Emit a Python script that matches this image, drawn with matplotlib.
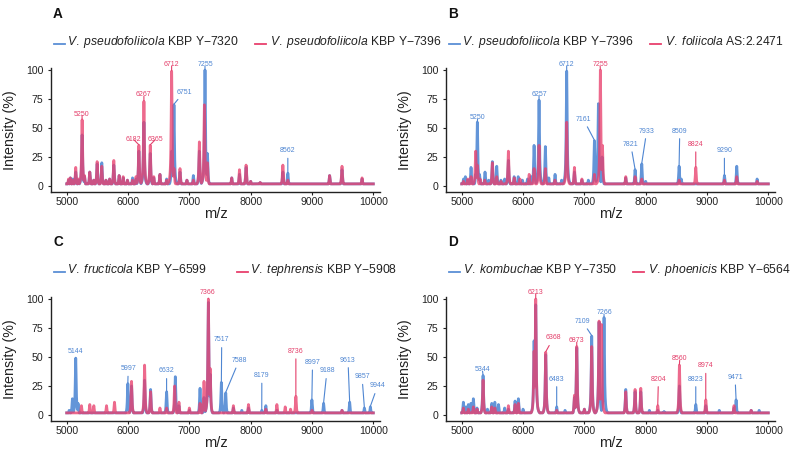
import numpy as np
import matplotlib
matplotlib.use("Agg")
import matplotlib.pyplot as plt
from matplotlib.lines import Line2D

plt.rcParams['font.family'] = ['Liberation Sans', 'DejaVu Sans']
plt.rcParams['mathtext.fontset'] = 'custom'
plt.rcParams['mathtext.it'] = 'Liberation Sans:italic'
plt.rcParams['mathtext.rm'] = 'Liberation Sans'

BLUE = '#5b8fd6'
RED = '#e8406d'
BLUE_TXT = '#4f86d2'
RED_TXT = '#e4406b'

# ---------------- data: (m/z, intensity %) peak lists -------------
A_blue = [(5030, 5), (5060, 7), (5100, 6), (5147, 12), (5190, 5), (5251, 44), (5290, 8), (5376, 12),
          (5440, 5), (5496, 19), (5572, 20), (5640, 5), (5700, 6), (5768, 18), (5855, 9), (5921, 7),
          (5990, 5), (6073, 7), (6130, 6), (6177, 30), (6259, 55), (6362, 28), (6420, 7), (6520, 10),
          (6629, 6), (6711, 30), (6749, 70), (6847, 12), (6960, 5), (7065, 9), (7163, 30), (7255, 100),
          (7295, 28), (7691, 7), (7817, 10), (7925, 16), (8000, 4), (8155, 3), (8525, 12), (8606, 11),
          (9287, 9), (9489, 14), (9816, 6)]
A_red = [(5030, 6), (5060, 7), (5100, 5), (5147, 16), (5190, 6), (5251, 57), (5290, 9), (5376, 12),
         (5440, 5), (5496, 21), (5572, 17), (5640, 5), (5700, 6), (5768, 22), (5855, 9), (5921, 8),
         (5990, 5), (6073, 5), (6130, 8), (6177, 35), (6259, 73), (6362, 35), (6420, 8), (6520, 10),
         (6629, 5), (6711, 99), (6749, 15), (6847, 15), (6960, 5), (7065, 5), (7163, 38), (7245, 70),
         (7295, 20), (7691, 7), (7817, 14), (7925, 18), (8000, 4), (8155, 3), (8525, 18), (8606, 5),
         (9287, 9), (9489, 17), (9816, 7)]

B_blue = [(5030, 6), (5060, 8), (5100, 5), (5152, 16), (5228, 10), (5255, 55), (5290, 10), (5380, 12),
          (5440, 5), (5500, 21), (5571, 17), (5640, 5), (5700, 6), (5761, 22), (5855, 8), (5921, 8),
          (5990, 5), (6073, 6), (6130, 8), (6180, 35), (6261, 74), (6364, 34), (6420, 7), (6522, 10),
          (6629, 5), (6712, 99), (6838, 12), (6960, 5), (7065, 5), (7164, 39), (7229, 71), (7290, 25),
          (7675, 7), (7827, 14), (7936, 19), (8000, 4), (8545, 17), (8580, 6), (9284, 9), (9485, 17),
          (9817, 6)]
B_red = [(5030, 4), (5100, 6), (5152, 8), (5228, 30), (5255, 18), (5300, 6), (5376, 5), (5500, 20),
         (5571, 8), (5640, 4), (5761, 30), (5855, 7), (5950, 6), (6100, 10), (6180, 15), (6261, 35),
         (6364, 15), (6520, 5), (6712, 55), (6838, 16), (6960, 6), (7164, 10), (7261, 100), (7295, 35),
         (7675, 8), (7827, 8), (7936, 6), (8545, 5), (8817, 16), (9284, 5), (9485, 8), (9817, 4)]

C_blue = [(5040, 4), (5093, 14), (5147, 49), (5185, 10), (5997, 27), (6057, 25), (6270, 30), (6368, 22),
          (6629, 20), (6771, 33), (6830, 8), (7000, 4), (7174, 23), (7239, 15), (7310, 97), (7340, 35),
          (7522, 28), (7593, 19), (7718, 6), (7855, 4), (7964, 6), (8181, 4), (8247, 8), (8427, 4),
          (8998, 13), (9189, 10), (9489, 4), (9614, 11), (9854, 6), (9952, 7)]
C_red = [(5240, 8), (5376, 9), (5442, 8), (5649, 8), (5779, 11), (6057, 29), (6270, 43), (6368, 20),
         (6520, 6), (6629, 6), (6760, 25), (6830, 11), (7000, 6), (7174, 10), (7239, 29), (7310, 100),
         (7340, 40), (7718, 8), (7964, 9), (8247, 5), (8427, 9), (8563, 7), (8650, 5), (8737, 16),
         (9000, 4), (9489, 4)]

D_blue = [(5027, 11), (5070, 7), (5108, 9), (5150, 10), (5190, 14), (5250, 6), (5348, 34), (5420, 5),
          (5490, 10), (5540, 11), (5600, 9), (5700, 6), (5761, 5), (5870, 12), (5924, 14), (6000, 5),
          (6180, 64), (6207, 95), (6370, 52), (6549, 7), (6685, 4), (6838, 15), (6876, 58), (7000, 5),
          (7120, 68), (7240, 80), (7321, 84), (7675, 22), (7827, 20), (7920, 20), (8060, 4), (8197, 4),
          (8300, 3), (8550, 25), (8817, 9), (8980, 8), (9200, 4), (9440, 6), (9474, 13), (9720, 4),
          (9850, 4)]
D_red = [(5027, 6), (5108, 5), (5190, 7), (5250, 5), (5348, 30), (5490, 7), (5540, 6), (5761, 8),
         (5870, 9), (5924, 10), (6180, 55), (6207, 100), (6370, 54), (6549, 4), (6838, 17), (6876, 59),
         (7000, 5), (7120, 59), (7240, 81), (7280, 78), (7675, 20), (7827, 22), (7920, 23), (8197, 8),
         (8550, 43), (8980, 13), (9440, 8), (9720, 4)]

# peak labels: (text, series, peak m/z)
A_labels = [("5250", 'r', 5251), ("6182", 'r', 6177), ("6267", 'r', 6259), ("6365", 'r', 6362),
            ("6712", 'r', 6711), ("6751", 'b', 6749), ("7255", 'b', 7255), ("8562", 'b', 8606)]
B_labels = [("5250", 'b', 5255), ("6257", 'b', 6261), ("6712", 'b', 6712), ("7255", 'r', 7261),
            ("7161", 'b', 7164), ("7821", 'b', 7827), ("7933", 'b', 7936), ("8509", 'b', 8545),
            ("8824", 'r', 8817), ("9290", 'b', 9284)]
C_labels = [("5144", 'b', 5147), ("5997", 'b', 5997), ("6632", 'b', 6629), ("7366", 'r', 7310),
            ("7517", 'b', 7522), ("7588", 'b', 7593), ("8179", 'b', 8181), ("8736", 'r', 8737),
            ("8997", 'b', 8998), ("9188", 'b', 9189), ("9613", 'b', 9614), ("9857", 'b', 9854),
            ("9944", 'b', 9952)]
D_labels = [("5344", 'b', 5348), ("6213", 'r', 6207), ("6368", 'r', 6370), ("6483", 'b', 6549),
            ("6873", 'r', 6876), ("7109", 'b', 7120), ("7266", 'b', 7321), ("8204", 'r', 8197),
            ("8560", 'r', 8550), ("8823", 'b', 8817), ("8974", 'r', 8980), ("9471", 'b', 9474)]

A_names = [("V.\\ pseudofoliicola", " KBP Y\u22127320"), ("V.\\ pseudofoliicola", " KBP Y\u22127396")]
B_names = [("V.\\ pseudofoliicola", " KBP Y\u22127396"), ("V.\\ foliicola", " AS:2.2471")]
C_names = [("V.\\ fructicola", " KBP Y\u22126599"), ("V.\\ tephrensis", " KBP Y\u22125908")]
D_names = [("V.\\ kombuchae", " KBP Y\u22127350"), ("V.\\ phoenicis", " KBP Y\u22126564")]

x_ticks = [5000, 6000, 7000, 8000, 9000, 10000]
y_ticks = [0, 25, 50, 75, 100]

# ---------------- layout (pixels) ----------------
W, H = 790, 455
label_pos = {
    'A': [(5250, 62), (6085, 40.5), (6259, 78.5), (6455, 40.5), (6711, 104.5), (6912, 81),
          (7255, 104.5), (8606, 30.5)],
    'B': [(5261, 59), (6261, 79), (6712, 104.5), (7256, 104.5), (6984, 57.5), (7756, 36),
          (8017, 47.4), (8556, 47.4), (8817, 36), (9284, 30.5)],
    'C': [(5147, 55), (6003, 40), (6629, 38), (7299, 106), (7528, 64.7), (7811, 47), (8182, 34),
          (8737, 55), (9009, 45.4), (9244, 38), (9587, 47.4), (9816, 33), (10070, 25)],
    'D': [(5337, 39), (6207, 105.7), (6495, 66.4), (6549, 31), (6876, 64), (6968, 80.7),
          (7321, 88), (8208, 31), (8556, 48.3), (8817, 31), (8980, 42.5), (9458, 32.5)],
}
panels = {
    'A': dict(left=51, top=68.3, bottom=192, ly=41.7, items=[(54, 67), (255, 270)], lx=53, lyl=14),
    'B': dict(left=446, top=68.3, bottom=192, ly=41.7, items=[(449, 462), (650, 665)], lx=448, lyl=14),
    'C': dict(left=51, top=297.3, bottom=421, ly=269.7, items=[(54, 67), (237, 250)], lx=53, lyl=242),
    'D': dict(left=446, top=297.3, bottom=421, ly=269.7, items=[(449, 463), (633, 648)], lx=448, lyl=242),
}
data = {'A': (A_blue, A_red, A_labels, A_names),
        'B': (B_blue, B_red, B_labels, B_names),
        'C': (C_blue, C_red, C_labels, C_names),
        'D': (D_blue, D_red, D_labels, D_names)}

mz_grid = np.arange(5000, 10001, 1.0)


def spectrum(peaks, base=1.8, gamma=9.0):
    y = np.full_like(mz_grid, base)
    for m, h in peaks:
        y = np.maximum(y, h / (1.0 + ((mz_grid - m) / gamma) ** 2))
    return y


fig = plt.figure(figsize=(W / 100, H / 100), dpi=100)

for key, p in panels.items():
    blue, red, labels, names = data[key]
    ax = fig.add_axes([p['left'] / W, 1 - p['bottom'] / H, 329 / W, (p['bottom'] - p['top']) / H])
    ax.plot(mz_grid, spectrum(blue), color=BLUE, lw=2.0, alpha=0.95, solid_joinstyle='round')
    ax.plot(mz_grid, spectrum(red), color=RED, lw=2.0, alpha=0.78, solid_joinstyle='round')
    ax.set_xlim(4744, 10109)
    ax.set_ylim(-5.2, 101.5)
    ax.set_xticks(x_ticks)
    ax.set_yticks(y_ticks)
    for s in ['top', 'right']:
        ax.spines[s].set_visible(False)
    for s in ['left', 'bottom']:
        ax.spines[s].set_linewidth(1.0)
        ax.spines[s].set_color('#222222')
    ax.tick_params(axis='both', length=2.4, width=0.8, color='#222222', labelsize=7.6,
                   labelcolor='#222222')
    ax.tick_params(axis='x', pad=1.2)
    ax.tick_params(axis='y', pad=3.0)
    ax.set_xlabel('m/z', fontsize=10.5, color='#222222')
    ax.set_ylabel('Intensity (%)', fontsize=10.3, color='#222222')
    ax.xaxis.set_label_coords(0.5, -0.118)
    ax.yaxis.set_label_coords(-0.103, 0.5)

    lookup = {'b': dict(blue), 'r': dict(red)}
    for (txt, s, m), (tx, ty) in zip(labels, label_pos[key]):
        c = BLUE_TXT if s == 'b' else RED_TXT
        h = lookup[s][m]
        ax.annotate(txt, xy=(m, h + 0.5), xytext=(tx, ty), ha='center', va='center',
                    fontsize=5.0, color=c, annotation_clip=False,
                    arrowprops=dict(arrowstyle='-', color=c, lw=0.8, shrinkA=1.0, shrinkB=0.0))

    # legend row
    y = 1 - p['ly'] / H
    for (lx, tx), (it, rest), col in zip(p['items'], names, [BLUE, RED]):
        fig.add_artist(Line2D([lx / W, (lx + 11) / W], [y - 0.004, y - 0.004], color=col, lw=1.3,
                              transform=fig.transFigure))
        fig.text(tx / W, y, r'$\mathit{' + it + '}$' + rest, fontsize=8.7, color='#222222',
                 ha='left', va='center')
    fig.text(p['lx'] / W, 1 - p['lyl'] / H, key, fontsize=9.8, fontweight='bold', color='#111111',
             ha='left', va='center')

fig.savefig('out.png', dpi=100)
